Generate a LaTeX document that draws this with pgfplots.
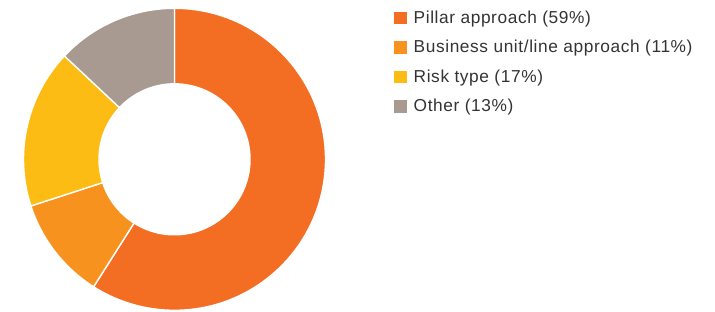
\documentclass[border=0pt]{standalone}
\usepackage{pgfplots}
\pgfplotsset{compat=1.18}
\usepackage{pgfplotstable}
\usepackage{fontspec}
\setmainfont{Liberation Sans}
\newfontfamily\legfont[LetterSpace=3.5]{Liberation Sans}
\definecolor{cPillar}{HTML}{F36D23}
\definecolor{cBusiness}{HTML}{F7921E}
\definecolor{cRisk}{HTML}{FDBC13}
\definecolor{cOther}{HTML}{A89A90}
\definecolor{txt}{HTML}{333333}

\pgfplotstableread{
label value
Pillar 59
Business 11
Risk 17
Other 13
}\shares

\pgfplotstablegetelem{0}{value}\of\shares \let\vA\pgfplotsretval
\pgfplotstablegetelem{1}{value}\of\shares \let\vB\pgfplotsretval
\pgfplotstablegetelem{2}{value}\of\shares \let\vC\pgfplotsretval
\pgfplotstablegetelem{3}{value}\of\shares \let\vD\pgfplotsretval
\pgfmathsetmacro\tot{\vA+\vB+\vC+\vD}
\pgfmathsetmacro\kk{360/\tot}
\pgfmathsetmacro\aA{90}
\pgfmathsetmacro\aB{\aA-\kk*\vA}
\pgfmathsetmacro\aC{\aB-\kk*\vB}
\pgfmathsetmacro\aD{\aC-\kk*\vC}
\pgfmathsetmacro\aE{\aD-\kk*\vD}

\def\cx{174.5}
\def\cy{151.7}
\def\Ro{151}
\def\Ri{75.5}

\newcommand{\slice}[3]{%
  \fill[#3, draw=white, line width=1.4pt]
    (axis cs:{\cx+\Ro*cos(#1)},{\cy+\Ro*sin(#1)})
    arc[start angle=#1, end angle=#2, radius=\Ro pt]
    -- (axis cs:{\cx+\Ri*cos(#2)},{\cy+\Ri*sin(#2)})
    arc[start angle=#2, end angle=#1, radius=\Ri pt]
    -- cycle;}

\begin{document}
\begin{tikzpicture}
\begin{axis}[
  hide axis, scale only axis,
  x=1pt, y=1pt,
  xmin=0, xmax=715, ymin=0, ymax=311,
  at={(0,0)}, anchor=origin,
  clip=false,
]
\slice{\aA}{\aB}{cPillar}
\slice{\aB}{\aC}{cBusiness}
\slice{\aC}{\aD}{cRisk}
\slice{\aD}{\aE}{cOther}

\addplot[only marks, color=cPillar, mark=square*, mark size=5.8pt, mark options={line width=0.2pt}] coordinates {(400,293.5)};
\addplot[only marks, color=cBusiness, mark=square*, mark size=5.8pt, mark options={line width=0.2pt}] coordinates {(400,264.0)};
\addplot[only marks, color=cRisk, mark=square*, mark size=5.8pt, mark options={line width=0.2pt}] coordinates {(400,234.5)};
\addplot[only marks, color=cOther, mark=square*, mark size=5.8pt, mark options={line width=0.2pt}] coordinates {(400,205.0)};

\begin{scope}[every node/.style={anchor=base west, inner sep=0pt, font=\legfont\fontsize{17.3}{20}\selectfont, text=txt}]
\node at (axis cs:413.5,287.5) {Pillar approach (59\%)};
\node at (axis cs:413.5,258.0) {Business unit/line approach (11\%)};
\node at (axis cs:413.5,228.5) {Risk type (17\%)};
\node at (axis cs:413.5,199.0) {Other (13\%)};
\end{scope}
\path (axis cs:0,0) (axis cs:715,311);
\end{axis}
\end{tikzpicture}
\end{document}
